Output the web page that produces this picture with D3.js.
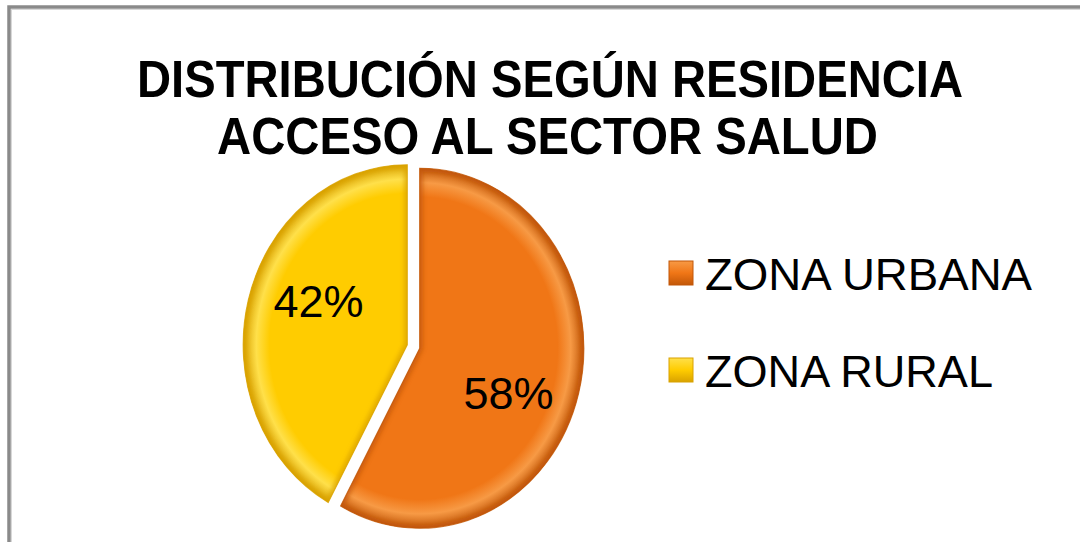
<!DOCTYPE html>
<html>
<head>
<meta charset="utf-8">
<script src="https://cdn.jsdelivr.net/npm/d3@7"></script>
<style>
  html, body { margin: 0; padding: 0; background: #ffffff; }
  svg { display: block; }
</style>
</head>
<body>
<svg id="chart" width="1080" height="542"></svg>
<script>
// ---- data ----
const categories = ["ZONA URBANA", "ZONA RURAL"];
const values = [58, 42];
const valueLabels = ["58%", "42%"];
const titleLines = ["DISTRIBUCIÓN SEGÚN RESIDENCIA", "ACCESO AL SECTOR SALUD"];

// ---- styles ----
const baseColors = ["#F07616", "#FFCC00"];
const lightColors = ["#F79A45", "#FFE04A"];
const darkColors = ["#C25708", "#D9A200"];

const W = 1080, H = 542;
const svg = d3.select("#chart");
const defs = svg.append("defs");

// frame
svg.append("rect")
  .attr("x", 9).attr("y", 7)
  .attr("width", 1100).attr("height", 600)
  .attr("fill", "#ffffff")
  .attr("stroke", "#8a8a8a").attr("stroke-width", 3.5);
svg.append("rect")
  .attr("x", 11.5).attr("y", 9.5)
  .attr("width", 1100).attr("height", 600)
  .attr("fill", "none")
  .attr("stroke", "#d8d8d8").attr("stroke-width", 1);

// title
const titleX = [137, 217];
const titleLen = [826, 661];
const titleY = [97, 154];
svg.append("g").selectAll("text")
  .data(titleLines)
  .join("text")
  .attr("x", (d, i) => titleX[i])
  .attr("y", (d, i) => titleY[i])
  .attr("textLength", (d, i) => titleLen[i])
  .attr("lengthAdjust", "spacingAndGlyphs")
  .attr("font-family", "'Liberation Sans', Arial, sans-serif")
  .attr("font-weight", "bold")
  .attr("font-size", 52)
  .attr("fill", "#000")
  .text(d => d);

// pie
const cx = 413.5, cy = 346.5, r = 180, sx = 0.912, explode = 7;
const pie = d3.pie().sort(null).startAngle(0).endAngle(2 * Math.PI)(values);
const arc = d3.arc().innerRadius(0).outerRadius(r);

const filter = defs.append("filter").attr("id", "soft")
  .attr("x", "-10%").attr("y", "-10%").attr("width", "120%").attr("height", "120%");
filter.append("feGaussianBlur").attr("stdDeviation", 2.2);

const pieG = svg.append("g").attr("transform", `translate(${cx},${cy}) scale(${sx},1)`);

pie.forEach((p, i) => {
  const mid = (p.startAngle + p.endAngle) / 2;
  const ox = explode * Math.sin(mid), oy = -explode * Math.cos(mid);
  p.ox = ox; p.oy = oy; p.mid = mid;

  const grad = defs.append("radialGradient")
    .attr("id", "g" + i)
    .attr("gradientUnits", "userSpaceOnUse")
    .attr("cx", 0).attr("cy", 0).attr("r", r);
  grad.append("stop").attr("offset", "0%").attr("stop-color", baseColors[i]);
  grad.append("stop").attr("offset", "84%").attr("stop-color", baseColors[i]);
  grad.append("stop").attr("offset", "92%").attr("stop-color", lightColors[i]);
  grad.append("stop").attr("offset", "100%").attr("stop-color", darkColors[i]);

  const clip = defs.append("clipPath").attr("id", "c" + i);
  clip.append("path").attr("d", arc(p));

  const g = pieG.append("g").attr("transform", `translate(${ox},${oy})`);
  g.append("path").attr("d", arc(p)).attr("fill", `url(#g${i})`);
  g.append("g").attr("clip-path", `url(#c${i})`)
    .append("path").attr("d", arc(p))
    .attr("fill", "none")
    .attr("stroke", darkColors[i])
    .attr("stroke-width", 7)
    .attr("stroke-linejoin", "round")
    .attr("opacity", 0.75)
    .attr("filter", "url(#soft)");
  g.append("path").attr("d", arc(p))
    .attr("fill", "none")
    .attr("stroke", darkColors[i])
    .attr("stroke-width", 1.2)
    .attr("opacity", 0.8);
});

// value labels (placed along the slice bisector)
const labelR = 107, labelTurn = 10 * Math.PI / 180;
svg.append("g").selectAll("text")
  .data(pie)
  .join("text")
  .attr("x", d => cx + sx * (d.ox + labelR * Math.sin(d.mid + labelTurn)))
  .attr("y", d => cy + d.oy - labelR * Math.cos(d.mid + labelTurn))
  .attr("text-anchor", "middle")
  .attr("dy", "0.36em")
  .attr("font-family", "'Liberation Sans', Arial, sans-serif")
  .attr("font-size", 45)
  .attr("fill", "#000")
  .text((d, i) => valueLabels[i]);

// legend
const legY = [290, 387];
const leg = svg.append("g");
categories.forEach((c, i) => {
  const lg = defs.append("linearGradient").attr("id", "lg" + i)
    .attr("x1", 0).attr("y1", 0).attr("x2", 0).attr("y2", 1);
  lg.append("stop").attr("offset", "0%").attr("stop-color", lightColors[i]);
  lg.append("stop").attr("offset", "50%").attr("stop-color", baseColors[i]);
  lg.append("stop").attr("offset", "100%").attr("stop-color", darkColors[i]);
  leg.append("rect")
    .attr("x", 669).attr("y", legY[i] - 29)
    .attr("width", 24).attr("height", 24)
    .attr("fill", `url(#lg${i})`)
    .attr("stroke", darkColors[i]).attr("stroke-width", 1);
  leg.append("text")
    .attr("x", 705).attr("y", legY[i])
    .attr("font-family", "'Liberation Sans', Arial, sans-serif")
    .attr("font-size", 44)
    .attr("textLength", i === 0 ? 327 : 288)
    .attr("lengthAdjust", "spacingAndGlyphs")
    .attr("fill", "#000")
    .text(c);
});
</script>
</body>
</html>
